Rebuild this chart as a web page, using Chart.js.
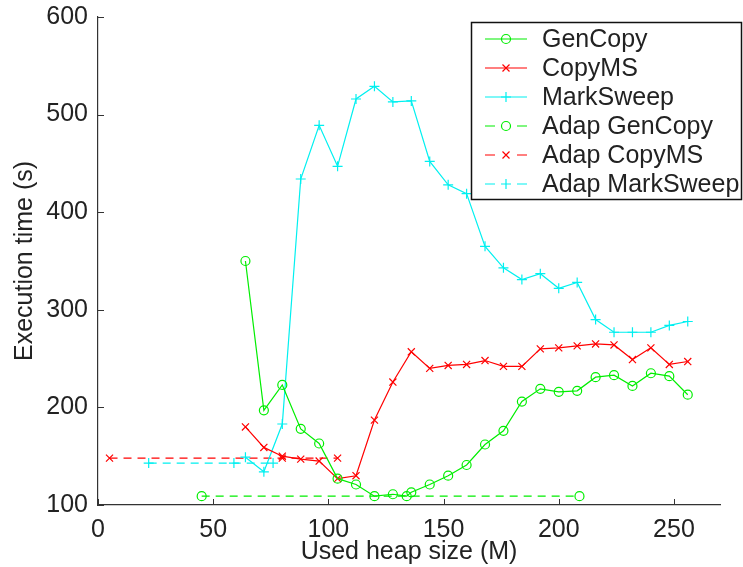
<!DOCTYPE html>
<html>
<head>
<meta charset="utf-8">
<script src="https://cdn.jsdelivr.net/npm/chart.js@4.4.0/dist/chart.umd.min.js"></script>
<style>
  html, body { margin: 0; padding: 0; background: #fff; }
  #wrap { width: 743px; height: 567px; }
</style>
</head>
<body>
<div id="wrap"><canvas id="grafico" width="743" height="567"></canvas></div>
<script>
// dados
const heapGenCopy = [64, 72, 80, 88, 96, 104, 112, 120, 128, 134, 136, 144, 152, 160, 168, 176, 184, 192, 200, 208, 216, 224, 232, 240, 248, 256];
const timeGenCopy = [350, 197, 223, 178, 163, 127, 121, 109, 111, 109, 113, 121, 130, 141, 162, 176, 206, 219, 216, 217, 231, 233, 222, 235, 232, 213];

const heapCopyMS = [64, 72, 80, 88, 96, 104, 112, 120, 128, 136, 144, 152, 160, 168, 176, 184, 192, 200, 208, 216, 224, 232, 240, 248, 256];
const timeCopyMS = [180, 159, 150, 147, 145, 127, 130, 187, 226, 257, 240, 243, 244, 248, 242, 242, 260, 261, 263, 265, 264, 249, 261, 244, 247];

const heapMarkSweep = [64, 72, 80, 88, 96, 104, 112, 120, 128, 136, 144, 152, 160, 168, 176, 184, 192, 200, 208, 216, 224, 232, 240, 248, 256];
const timeMarkSweep = [149, 134, 183, 434, 489, 447, 516, 529, 513, 514, 452, 428, 419, 365, 343, 331, 337, 322, 328, 290, 277, 277, 277, 284, 288];

const heapAdapGenCopy = [45, 209];
const timeAdapGenCopy = [109, 109];

const heapAdapCopyMS = [5, 80, 104];
const timeAdapCopyMS = [148, 148, 148];

const heapAdapMarkSweep = [22, 59, 76];
const timeAdapMarkSweep = [143, 143, 143];

const xTicks = [0, 50, 100, 150, 200, 250];
const yTicks = [100, 200, 300, 400, 500, 600];

const verde = '#00ee00';
const vermelho = '#ff0000';
const ciano = '#00f0f0';
const fonte = "'Liberation Sans', Helvetica, Arial, sans-serif";
const corTexto = '#222222';

function pontos(xs, ys) {
    return xs.map((x, i) => ({ x: x, y: ys[i] }));
}

function serie(label, xs, ys, cor, estilo, tracejado) {
    return {
        label: label,
        data: pontos(xs, ys),
        showLine: true,
        borderColor: cor,
        backgroundColor: 'rgba(0,0,0,0)',
        borderWidth: 1.2,
        borderDash: tracejado ? [8, 6] : [],
        pointStyle: estilo,
        pointRadius: estilo === 'circle' ? 4.5 : 5,
        pointBorderColor: cor,
        pointBorderWidth: 1.2,
        pointBackgroundColor: 'rgba(0,0,0,0)',
        tension: 0
    };
}

// marcador desenhado à mão para a legenda
function marcador(ctx, estilo, x, y) {
    ctx.beginPath();
    if (estilo === 'circle') {
        ctx.arc(x, y, 4.5, 0, Math.PI * 2);
    } else if (estilo === 'cross') {
        ctx.moveTo(x - 5, y); ctx.lineTo(x + 5, y);
        ctx.moveTo(x, y - 5); ctx.lineTo(x, y + 5);
    } else {
        const d = 3.5;
        ctx.moveTo(x - d, y - d); ctx.lineTo(x + d, y + d);
        ctx.moveTo(x - d, y + d); ctx.lineTo(x + d, y - d);
    }
    ctx.stroke();
}

// ticks para dentro, como no MATLAB
const ticksInternos = {
    id: 'ticksInternos',
    afterDatasetsDraw(chart) {
        const ctx = chart.ctx;
        const xs = chart.scales.x, ys = chart.scales.y;
        ctx.save();
        ctx.strokeStyle = '#333';
        ctx.lineWidth = 1;
        xs.ticks.forEach(t => {
            const px = Math.round(xs.getPixelForValue(t.value)) + 0.5;
            ctx.beginPath();
            ctx.moveTo(px, ys.bottom);
            ctx.lineTo(px, ys.bottom - 6);
            ctx.stroke();
        });
        ys.ticks.forEach(t => {
            const py = Math.round(ys.getPixelForValue(t.value)) + 0.5;
            ctx.beginPath();
            ctx.moveTo(xs.left, py);
            ctx.lineTo(xs.left + 6, py);
            ctx.stroke();
        });
        ctx.restore();
    }
};

// legenda com caixa, no canto superior direito
const legendaCaixa = {
    id: 'legendaCaixa',
    afterDraw(chart) {
        const ctx = chart.ctx;
        const bx = 471.5, by = 22.5, bw = 270, bh = 177;
        ctx.save();
        ctx.fillStyle = '#fff';
        ctx.fillRect(bx, by, bw, bh);
        ctx.strokeStyle = '#111';
        ctx.lineWidth = 1.5;
        ctx.strokeRect(bx, by, bw, bh);
        ctx.font = '25px ' + fonte;
        ctx.textBaseline = 'middle';
        chart.data.datasets.forEach((ds, i) => {
            const y = 39 + i * 29;
            ctx.strokeStyle = ds.borderColor;
            ctx.lineWidth = 1.2;
            ctx.setLineDash(ds.borderDash.length ? [10, 22] : []);
            ctx.beginPath();
            ctx.moveTo(485, y);
            ctx.lineTo(527, y);
            ctx.stroke();
            ctx.setLineDash([]);
            marcador(ctx, ds.pointStyle, 506, y);
            ctx.fillStyle = corTexto;
            ctx.fillText(ds.label, 542, y + 1);
        });
        ctx.restore();
    }
};

new Chart(document.getElementById('grafico'), {
    type: 'scatter',
    data: {
        datasets: [
            serie('GenCopy', heapGenCopy, timeGenCopy, verde, 'circle', false),
            serie('CopyMS', heapCopyMS, timeCopyMS, vermelho, 'crossRot', false),
            serie('MarkSweep', heapMarkSweep, timeMarkSweep, ciano, 'cross', false),
            serie('Adap GenCopy', heapAdapGenCopy, timeAdapGenCopy, verde, 'circle', true),
            serie('Adap CopyMS', heapAdapCopyMS, timeAdapCopyMS, vermelho, 'crossRot', true),
            serie('Adap MarkSweep', heapAdapMarkSweep, timeAdapMarkSweep, ciano, 'cross', true)
        ]
    },
    options: {
        responsive: false,
        animation: false,
        layout: { padding: { top: 12, right: 23, left: 0, bottom: 0 } },
        plugins: {
            legend: { display: false },
            tooltip: { enabled: false }
        },
        scales: {
            x: {
                type: 'linear',
                min: 0,
                max: 270,
                afterBuildTicks: s => { s.ticks = xTicks.map(v => ({ value: v })); },
                afterFit: s => { s.height = 62; },
                ticks: {
                    color: corTexto,
                    font: { family: fonte, size: 25 },
                    padding: 2,
                    maxRotation: 0
                },
                grid: { display: false },
                border: { display: true, color: '#333', width: 1.2 },
                title: {
                    display: true,
                    text: 'Used heap size (M)',
                    color: corTexto,
                    font: { family: fonte, size: 25 },
                    padding: { top: 0, bottom: 0 }
                }
            },
            y: {
                type: 'linear',
                min: 100,
                max: 600,
                afterBuildTicks: s => { s.ticks = yTicks.map(v => ({ value: v })); },
                afterFit: s => { s.width = 98; },
                ticks: {
                    color: corTexto,
                    font: { family: fonte, size: 25 },
                    padding: 2
                },
                grid: { display: false },
                border: { display: true, color: '#333', width: 1.2 },
                title: {
                    display: true,
                    text: 'Execution time (s)',
                    color: corTexto,
                    font: { family: fonte, size: 25 },
                    padding: { top: 10, bottom: 0 }
                }
            }
        }
    },
    plugins: [ticksInternos, legendaCaixa]
});
</script>
</body>
</html>
